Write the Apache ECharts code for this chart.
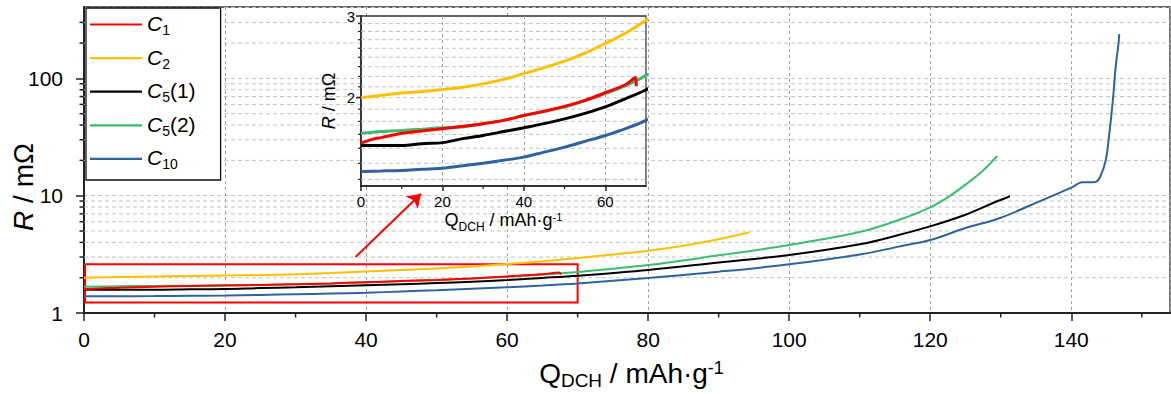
<!DOCTYPE html>
<html>
<head>
<meta charset="utf-8">
<script src="https://cdn.jsdelivr.net/npm/echarts@6/dist/echarts.min.js"></script>
<style>html,body{margin:0;padding:0;background:#fff}#c{width:1171px;height:394px}</style>
</head>
<body>
<div id="c"></div>
<script>
// ---------------- data ----------------
const seriesNames = ['C1', 'C2', 'C5(1)', 'C5(2)', 'C10'];

const c1Q = [0, 3.4, 5, 10, 15, 20, 25, 30, 35, 40, 45, 50, 55, 60, 65, 67.4, 67.6];
const c1R = [1.596, 1.632, 1.64, 1.676, 1.695, 1.715, 1.735, 1.758, 1.787, 1.83, 1.87, 1.915, 1.973, 2.05, 2.135, 2.21, 2.12];

const c2Q = [0, 5, 10, 15, 20, 25, 30, 35, 40, 45, 50, 55, 60, 65, 70, 75, 80, 85, 90, 94.4];
const c2R = [2.0, 2.023, 2.046, 2.063, 2.083, 2.107, 2.142, 2.19, 2.254, 2.322, 2.398, 2.496, 2.617, 2.757, 2.94, 3.15, 3.4, 3.75, 4.25, 4.87];

const c51Q = [0, 5, 10, 15, 20, 25, 30, 35, 40, 45, 50, 55, 60, 65, 70, 80, 90, 100, 110, 115.5, 120.2, 124.9, 129.3, 131.3];
const c51R = [1.577, 1.577, 1.577, 1.592, 1.60, 1.632, 1.658, 1.69, 1.723, 1.758, 1.80, 1.85, 1.91, 1.99, 2.08, 2.33, 2.7, 3.12, 3.85, 4.62, 5.53, 6.85, 8.88, 9.9];

const c52Q = [0, 5, 10, 15, 20, 25, 30, 35, 40, 45, 50, 55, 60, 65, 70, 80, 90, 100, 110, 115.5, 120, 122.6, 124.9, 127.3, 129.5];
const c52R = [1.676, 1.69, 1.70, 1.71, 1.723, 1.73, 1.758, 1.787, 1.83, 1.87, 1.91, 1.97, 2.04, 2.124, 2.234, 2.56, 3.1, 3.8, 4.9, 6.2, 7.96, 9.8, 12.3, 16.0, 21.8];

const c10Q = [0, 5, 10, 15, 20, 25, 30, 35, 40, 45, 50, 55, 60, 65, 70, 80, 90, 100, 110, 115.5, 120, 124.9, 129.8, 134.3, 140, 141.5, 143.4, 144.1, 144.9, 145.4, 145.9, 146.3, 146.7, 146.8];
const c10R = [1.387, 1.39, 1.394, 1.402, 1.409, 1.426, 1.445, 1.466, 1.489, 1.526, 1.565, 1.61, 1.658, 1.715, 1.787, 1.99, 2.25, 2.6, 3.15, 3.68, 4.19, 5.27, 6.42, 8.33, 11.7, 13.0, 13.1, 14.5, 20.2, 34.0, 65.5, 126, 199, 239];

// zoom box and arrow (data coordinates)
const boxQ = [0.15, 70];
const boxR = [1.227, 2.6];
const arrowQ = [38.5, 47.8];
const arrowR = [3.0, 10.4];

// tick / grid values
const mainYLabels = [1, 10, 100];
const mainYMinor = [2, 3, 4, 5, 6, 7, 8, 9, 20, 30, 40, 50, 60, 70, 80, 90, 200, 300];
const mainXMinor = [10, 30, 50, 70, 90, 110, 130, 150];
const insetYMajor = [2, 3];
const insetYMinor = [1.333, 1.444, 1.556, 1.667, 1.778, 1.889, 2.111, 2.222, 2.333, 2.444, 2.556, 2.667, 2.778, 2.889];
const insetXMinor = [10, 30, 50];

// ---------------- chart ----------------
const FONT = "'Liberation Sans', Arial, sans-serif";
const colors = {'C1': '#ff0000', 'C2': '#ffc000', 'C5(1)': '#000000', 'C5(2)': '#3cbc6c', 'C10': '#2f63a0'};
const curves = {'C1': [c1Q, c1R], 'C2': [c2Q, c2R], 'C5(1)': [c51Q, c51R], 'C5(2)': [c52Q, c52R], 'C10': [c10Q, c10R]};
const drawOrder = ['C10', 'C5(1)', 'C5(2)', 'C2', 'C1'];
const zip = (a, b) => a.map((v, i) => [v, b[i]]);

function rich(base, sub, drop, sup) {
  return {
    n: {fontFamily: FONT, fontSize: base, lineHeight: base + 2, verticalAlign: 'top', color: '#000', fill: '#000'},
    i: {fontFamily: FONT, fontSize: base, lineHeight: base + 2, verticalAlign: 'top', color: '#000', fill: '#000', fontStyle: 'italic'},
    s: {fontFamily: FONT, fontSize: sub, lineHeight: sub, padding: [drop, 0, 0, 0], verticalAlign: 'top', color: '#000', fill: '#000'},
    p: {fontFamily: FONT, fontSize: sup, lineHeight: sup, verticalAlign: 'top', color: '#000', fill: '#000'}
  };
}

const series = [];
drawOrder.forEach(name => {
  const [q, r] = curves[name];
  const s = {
    name, type: 'line', xAxisIndex: 0, yAxisIndex: 0, data: zip(q, r),
    showSymbol: false, smooth: 0.35, z: 2,
    lineStyle: {color: colors[name], width: 2}, itemStyle: {color: colors[name]}
  };
  if (name === 'C1') {
    s.markArea = {
      silent: true, label: {show: false},
      itemStyle: {color: 'rgba(0,0,0,0)', borderColor: '#ff0000', borderWidth: 2},
      data: [[{xAxis: boxQ[0], yAxis: boxR[0]}, {xAxis: boxQ[1], yAxis: boxR[1]}]]
    };
    s.markLine = {
      silent: true, symbol: ['none', 'arrow'], symbolSize: 13, label: {show: false},
      lineStyle: {color: '#ff0000', width: 2, type: 'solid'},
      data: [[{coord: [arrowQ[0], arrowR[0]]}, {coord: [arrowQ[1], arrowR[1]]}]]
    };
  }
  series.push(s);
});
drawOrder.forEach(name => {
  const [q, r] = curves[name];
  series.push({
    name, type: 'line', xAxisIndex: 1, yAxisIndex: 1, data: zip(q, r),
    showSymbol: false, smooth: 0.35, z: 6, clip: true,
    lineStyle: {color: colors[name], width: 3}, itemStyle: {color: colors[name]}
  });
});

// main minor ticks and minor grid lines
series.push({
  type: 'custom', xAxisIndex: 0, yAxisIndex: 0, data: [[1, 1]], z: 1, silent: true, clip: false,
  renderItem(params, api) {
    const cs = params.coordSys, kids = [];
    mainYMinor.forEach(v => {
      const y = api.coord([0, v])[1];
      kids.push({type: 'line', shape: {x1: cs.x, y1: y, x2: cs.x + cs.width, y2: y},
        style: {stroke: '#c4c4c4', lineWidth: 1, lineDash: [4, 3]}});
      kids.push({type: 'line', shape: {x1: cs.x - 4.5, y1: y, x2: cs.x, y2: y},
        style: {stroke: '#222', lineWidth: 1.5}});
    });
    mainXMinor.forEach(v => {
      const x = api.coord([v, 1])[0];
      const yb = cs.y + cs.height;
      kids.push({type: 'line', shape: {x1: x, y1: yb, x2: x, y2: yb + 4.5},
        style: {stroke: '#222', lineWidth: 1.5}});
    });
    return {type: 'group', children: kids};
  }
});

// inset ticks, labels and grid lines
series.push({
  type: 'custom', xAxisIndex: 1, yAxisIndex: 1, data: [[10, 2]], z: 5, silent: true, clip: false,
  renderItem(params, api) {
    const cs = params.coordSys, kids = [];
    insetYMinor.concat([2]).forEach(v => {
      const y = api.coord([0, v])[1];
      kids.push({type: 'line', shape: {x1: cs.x, y1: y, x2: cs.x + cs.width, y2: y},
        style: {stroke: '#c4c4c4', lineWidth: 1, lineDash: [4, 3]}});
    });
    insetYMinor.forEach(v => {
      const y = api.coord([0, v])[1];
      kids.push({type: 'line', shape: {x1: cs.x - 3, y1: y, x2: cs.x, y2: y},
        style: {stroke: '#222', lineWidth: 1.2}});
    });
    insetYMajor.forEach(v => {
      const y = api.coord([0, v])[1];
      kids.push({type: 'line', shape: {x1: cs.x - 5, y1: y, x2: cs.x, y2: y},
        style: {stroke: '#222', lineWidth: 1.5}});
      kids.push({type: 'text', x: cs.x - 6, y: y,
        style: {text: String(v), fontSize: 15, fontFamily: FONT, fill: '#000', align: 'right', verticalAlign: 'middle'}});
    });
    insetXMinor.forEach(v => {
      const x = api.coord([v, 2])[0];
      const yb = cs.y + cs.height;
      kids.push({type: 'line', shape: {x1: x, y1: yb, x2: x, y2: yb + 3},
        style: {stroke: '#222', lineWidth: 1.2}});
    });
    return {type: 'group', children: kids};
  }
});

const option = {
  animation: false,
  backgroundColor: '#fff',
  grid: [
    {left: 84, top: 7, right: 1, bottom: 81, containLabel: false, outerBoundsMode: 'none',
      show: true, backgroundColor: 'rgba(0,0,0,0)', borderColor: '#333', borderWidth: 1.3, z: 0},
    {left: 361, top: 16, width: 285, height: 170, containLabel: false, outerBoundsMode: 'none',
      show: true, backgroundColor: '#fff', borderColor: '#333', borderWidth: 1.3, z: 3}
  ],
  graphic: [{
    type: 'text', x: 24, y: 187, rotation: Math.PI / 2, z: 10, silent: true,
    style: {text: '{i|R}{n| / mΩ}', rich: rich(28, 19, 15, 18), align: 'center', verticalAlign: 'middle', fill: '#000'}
  }],
  legend: {
    data: seriesNames, orient: 'vertical', left: 86, top: 8,
    icon: 'rect', itemWidth: 52, itemHeight: 2.2, itemGap: 9.6, itemTextGap: 7,
    padding: [5, 25, 8.6, 4], backgroundColor: '#fff', borderColor: '#111', borderWidth: 1.3,
    selectedMode: false, z: 8,
    formatter: name => {
      const m = name.match(/^C(\d+)(.*)$/);
      return '{i|C}{s|' + m[1] + '}' + (m[2] ? '{n|' + m[2] + '}' : '');
    },
    textStyle: {rich: rich(21, 14, 10, 12)}
  },
  xAxis: [
    {
      type: 'value', gridIndex: 0, min: 0, max: 154, interval: 20,
      axisLine: {show: true, onZero: false, lineStyle: {color: '#222', width: 2}},
      axisTick: {show: true, inside: false, length: 8, lineStyle: {color: '#222', width: 1.5}},
      axisLabel: {fontSize: 21, fontFamily: FONT, color: '#000', margin: 16, showMaxLabel: false,
        formatter: v => (v % 20 === 0 ? String(v) : '')},
      splitLine: {show: true, lineStyle: {color: '#a0a0a0', width: 1, type: [3, 3]}},
      name: '{n|Q}{s|DCH}{n| / mAh·g}{p|-1}', nameLocation: 'middle', nameGap: 46,
      nameTextStyle: {rich: rich(28, 19, 12, 18), padding: [0, 0, 0, 9]}
    },
    {
      type: 'value', gridIndex: 1, min: 0, max: 70, interval: 20, z: 4,
      axisLine: {show: true, onZero: false, lineStyle: {color: '#222', width: 1.5}},
      axisTick: {show: true, inside: false, length: 5, lineStyle: {color: '#222', width: 1.5}},
      axisLabel: {fontSize: 15, fontFamily: FONT, color: '#000', margin: 8, showMaxLabel: false,
        formatter: v => (v % 20 === 0 ? String(v) : '')},
      splitLine: {show: true, lineStyle: {color: '#a0a0a0', width: 1, type: [3, 3]}},
      name: '{n|Q}{s|DCH}{n| / mAh·g}{p|-1}', nameLocation: 'middle', nameGap: 25,
      nameTextStyle: {rich: rich(18, 12, 10, 11)}
    }
  ],
  yAxis: [
    {
      type: 'log', logBase: 10, gridIndex: 0, min: 1, max: 406,
      axisLine: {show: true, onZero: false, lineStyle: {color: '#222', width: 2}},
      axisTick: {show: true, inside: false, length: 8, lineStyle: {color: '#222', width: 1.5}},
      axisLabel: {fontSize: 21, fontFamily: FONT, color: '#000', margin: 21, showMaxLabel: false,
        formatter: v => {
          const hit = mainYLabels.find(t => Math.abs(t - v) / t < 1e-6);
          return hit ? String(hit) : '';
        }},
      splitLine: {show: true, lineStyle: {color: '#c4c4c4', width: 1, type: [4, 3]}}
    },
    {
      type: 'log', logBase: 10, gridIndex: 1, min: 1.29, max: 3, z: 4,
      axisLine: {show: true, onZero: false, lineStyle: {color: '#222', width: 1.5}},
      axisTick: {show: false},
      axisLabel: {show: false},
      splitLine: {show: false},
      name: '{i|R}{n| / mΩ}', nameLocation: 'middle', nameGap: 21,
      nameTextStyle: {rich: rich(18, 12, 11, 11)}
    }
  ],
  series
};

const chart = echarts.init(document.getElementById('c'), null, {renderer: 'svg', width: 1171, height: 394});
chart.setOption(option);
</script>
</body>
</html>
